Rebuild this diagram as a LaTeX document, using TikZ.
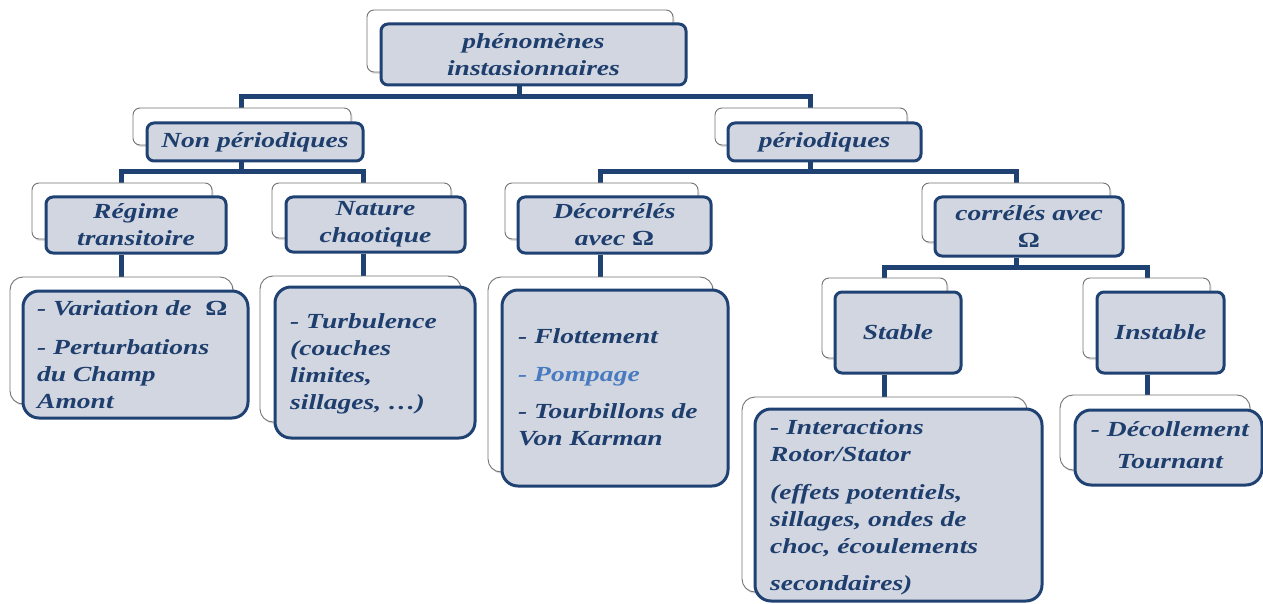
\documentclass[tikz,border=0pt]{standalone}
\usepackage{fontspec}
\newfontfamily\gar[FakeStretch=1.28]{Liberation Serif}
\usetikzlibrary{shadows,backgrounds}
\definecolor{dblue}{RGB}{31,66,115}
\definecolor{tblue}{RGB}{30,62,110}
\definecolor{boxfill}{RGB}{210,214,224}
\definecolor{pblue}{RGB}{72,122,192}
\newcommand\lbl{\gar\bfseries\itshape\fontsize{21.5}{27}\selectfont}
\newcommand\Om{{\upshape\bfseries Ω}}
\tikzset{
  back/.style={draw=black!55, line width=0.9pt, fill=white, rounded corners=7pt,
    drop shadow={opacity=0.25, shadow xshift=1.5pt, shadow yshift=-2pt}, inner sep=0pt},
  front/.style={draw=dblue, line width=3pt, fill=boxfill, rounded corners=7pt,
    inner sep=0pt, font=\lbl, text=tblue, align=center},
  leafback/.style={back, rounded corners=13pt},
  leaffront/.style={front, rounded corners=16pt},
  conn/.style={draw=dblue, line width=5pt},
  txt/.style={font=\lbl, text=tblue, align=left, anchor=west, inner sep=0pt},
}
\begin{document}
\begin{tikzpicture}[x=1pt,y=-1pt]
\useasboundingbox (0,0) rectangle (1263,604);
% back boxes
\node[back, minimum width=306pt, minimum height=62pt] (bTop) at (520,41) {};
\node[back, minimum width=218pt, minimum height=37pt] (bNon) at (242,126.5) {};
\node[back, minimum width=192pt, minimum height=37pt] (bPer) at (811,126.5) {};
\node[back, minimum width=180pt, minimum height=56pt] (bReg) at (122,211) {};
\node[back, minimum width=179pt, minimum height=55pt] (bNat) at (361.5,210.5) {};
\node[back, minimum width=193pt, minimum height=56pt] (bDec) at (601.5,211) {};
\node[back, minimum width=188pt, minimum height=59pt] (bCor) at (1016,212.5) {};
\node[back, minimum width=125pt, minimum height=80pt] (bSta) at (884.5,318) {};
\node[back, minimum width=127pt, minimum height=80pt] (bIns) at (1146.5,318) {};
\node[leafback, minimum width=223pt, minimum height=127pt] (bLR) at (121.5,340.5) {};
\node[leafback, minimum width=201pt, minimum height=146pt] (bLN) at (360.5,349) {};
\node[leafback, minimum width=225pt, minimum height=195pt] (bLD) at (600.5,374.5) {};
\node[leafback, minimum width=285pt, minimum height=195pt] (bLS) at (884.5,494.5) {};
\node[leafback, minimum width=190pt, minimum height=75pt] (bLI) at (1155,432.5) {};
% front boxes
\node[front, minimum width=305pt, minimum height=61pt] (fTop) at (533.5,54.5) {phénomènes\\instasionnaires};
\node[front, minimum width=216pt, minimum height=38pt] (fNon) at (255,142) {Non périodiques};
\node[front, minimum width=193pt, minimum height=38pt] (fPer) at (824.5,142) {périodiques};
\node[front, minimum width=180pt, minimum height=56pt] (fReg) at (136,225) {Régime\\transitoire};
\node[front, minimum width=179pt, minimum height=55pt] (fNat) at (375.5,224.5) {Nature\\chaotique};
\node[front, minimum width=193pt, minimum height=56pt] (fDec) at (614.5,225) {Décorrélés\\avec \Om};
\node[front, minimum width=188pt, minimum height=59pt] (fCor) at (1029,226.5) {corrélés avec\\\Om};
\node[front, minimum width=126pt, minimum height=81pt] (fSta) at (898,332.5) {Stable};
\node[front, minimum width=127pt, minimum height=81pt] (fIns) at (1160.5,332.5) {Instable};
\node[leaffront, minimum width=225pt, minimum height=127pt] (fLR) at (135.5,354.5) {};
\node[leaffront, minimum width=200pt, minimum height=151pt] (fLN) at (375,362.5) {};
\node[leaffront, minimum width=226pt, minimum height=196pt] (fLD) at (615,388) {};
\node[leaffront, minimum width=287pt, minimum height=192pt] (fLS) at (898.5,505) {};
\node[leaffront, minimum width=187pt, minimum height=75pt] (fLI) at (1168.5,447.5) {};
% leaf texts
\node[txt] (tLR) at (37,354.5) {- Variation de~ \Om\\[12pt]- Perturbations\\du Champ\\Amont};
\node[txt] (tLN) at (290,363.5) {- Turbulence\\(couches\\limites,\\sillages, …)};
\node[txt] (tLD) at (518,387) {- Flottement\\[11pt]{\color{pblue}- Pompage}\\[10pt]- Tourbillons de\\Von Karman};
\node[txt] (tLS) at (770,507) {- Interactions\\Rotor/Stator\\[11pt](effets potentiels,\\sillages, ondes de\\choc, écoulements\\[10pt]secondaires)};
\node[txt, align=center, anchor=center] (tLI) at (1170,445) {- Décollement\\[5pt]Tournant};
% connectors
\coordinate (xa) at (519,97);
\coordinate (xNon) at (241,97);
\coordinate (xPer) at (810,97);
\coordinate (xb) at (241,172);
\coordinate (xReg) at (121,172);
\coordinate (xNat) at (363,172);
\coordinate (xc) at (810,172);
\coordinate (xDec) at (600,172);
\coordinate (xCor) at (1016,172);
\coordinate (xe) at (1016,267);
\coordinate (xSta) at (884,267);
\coordinate (xIns) at (1147,267);
\begin{scope}[on background layer]
\draw[conn] (fTop.south -| xa) -- (xa);
\draw[conn] (bNon.north -| xNon) |- (xa) -| (bPer.north -| xPer);
\draw[conn] (fNon.south -| xb) -- (xb);
\draw[conn] (bReg.north -| xReg) |- (xb) -| (bNat.north -| xNat);
\draw[conn] (fPer.south -| xc) -- (xc);
\draw[conn] (bDec.north -| xDec) |- (xc) -| (bCor.north -| xCor);
\draw[conn] (fReg.south -| xReg) -- (bLR.north -| xReg);
\draw[conn] (fNat.south -| xNat) -- (bLN.north -| xNat);
\draw[conn] (fDec.south -| xDec) -- (bLD.north -| xDec);
\draw[conn] (fCor.south -| xe) -- (xe);
\draw[conn] (bSta.north -| xSta) |- (xe) -| (bIns.north -| xIns);
\draw[conn] (fSta.south -| xSta) -- (bLS.north -| xSta);
\draw[conn] (fIns.south -| xIns) -- (bLI.north -| xIns);
\end{scope}
\end{tikzpicture}
\end{document}
